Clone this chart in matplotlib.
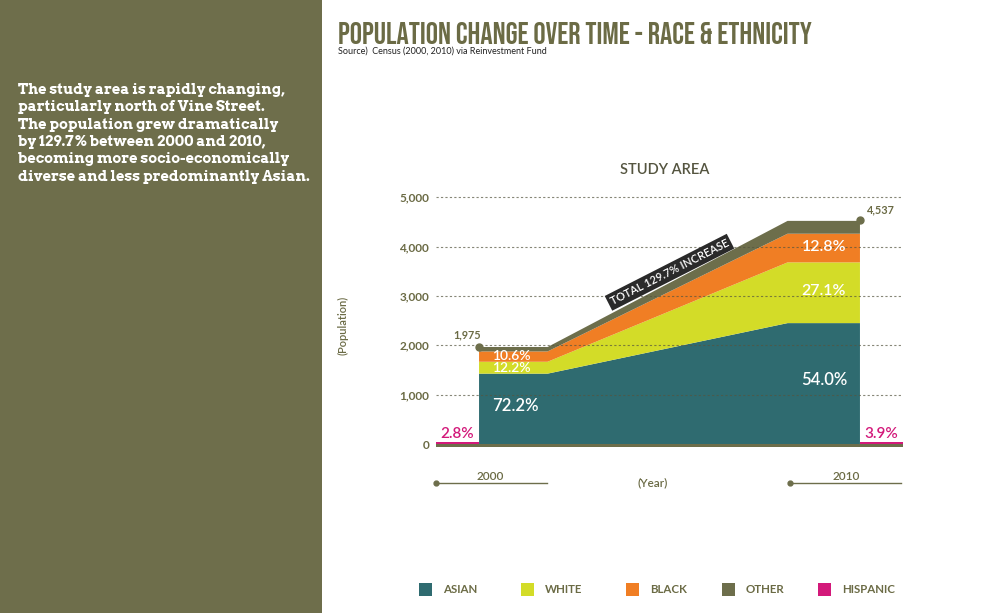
import matplotlib
matplotlib.use("Agg")
import matplotlib.pyplot as plt
from matplotlib.patches import Rectangle

# данные (чтение с картинки)
years = [2000, 2010]
asian = [1426, 2450]
white = [241, 1230]
black = [209, 581]
other = [90, 260]
totals = [1975, 4537]
pct_asian = ["72.2%", "54.0%"]
pct_white = ["12.2%", "27.1%"]
pct_black = ["10.6%", "12.8%"]
pct_hispanic = ["2.8%", "3.9%"]
yticks = [0, 1000, 2000, 3000, 4000, 5000]
ytick_labels = ["0", "1,000", "2,000", "3,000", "4,000", "5,000"]

# цвета
c_asian = "#2f6b70"
c_white = "#d3dc28"
c_black = "#f07e24"
c_other = "#6d6e4b"
c_hisp = "#d3197a"
olive = "#6b6b45"
panel = "#6e6e4b"

font = ["Lato", "DejaVu Sans"]

fig = plt.figure(figsize=(10.04, 6.13), dpi=100)
fig.patch.set_facecolor("white")

# левая панель
fig.patches.append(Rectangle((0, 0), 322 / 1004, 1, transform=fig.transFigure,
                             facecolor=panel, edgecolor="none", zorder=0))
panel_text = ("The study area is rapidly changing,\n"
              "particularly north of Vine Street.\n"
              "The population grew dramatically\n"
              "by 129.7% between 2000 and 2010,\n"
              "becoming more socio-economically\n"
              "diverse and less predominantly Asian.")
fig.text(18 / 1004, 1 - 83 / 613, panel_text, color="white", fontsize=10.5,
         family=["Arvo", "DejaVu Serif"], weight="bold", va="top", ha="left",
         linespacing=1.3)

# заголовок
fig.text(338 / 1004, 1 - 44 / 613, "POPULATION CHANGE OVER TIME - RACE & ETHNICITY",
         color=olive, fontsize=22,
         family=["Bebas Neue", "DejaVu Sans"], ha="left", va="baseline")
fig.text(338 / 1004, 1 - 54 / 613, "Source)  Census (2000, 2010) via Reinvestment Fund",
         color="#222222", fontsize=6.5, family=font, ha="left", va="baseline")
fig.text(665 / 1004, 1 - 170 / 613, "STUDY AREA", color="#555540", fontsize=10.5,
         family=font, weight="semibold", ha="center", va="center")
fig.text(343 / 1004, 1 - 325 / 613, "(Population)", color=olive, fontsize=8,
         family=font, weight="semibold", rotation=90, ha="center", va="center")

# оси
x0, x1 = 1998.87, 2011.13
ax = fig.add_axes([436 / 1004, (613 - 447) / 613, 467 / 1004, (447 - 192.3) / 613])
ax.set_xlim(x0, x1)
ax.set_ylim(-60, 5100)
for s in ax.spines.values():
    s.set_visible(False)
ax.set_xticks([])
ax.set_yticks(yticks)
ax.set_yticklabels(ytick_labels, color=olive, fontsize=8.5, family=font, weight="bold")
ax.tick_params(axis="y", length=0, pad=5)
ax.set_facecolor("none")

# форма: плоско у 2000, подъём, плоско у 2010
xs = [years[0], 2001.8, 2008.1, years[1]]
def shape(v):
    return [v[0], v[0], v[1], v[1]]

ax.stackplot(xs, shape(asian), shape(white), shape(black), shape(other),
             colors=[c_asian, c_white, c_black, c_other], linewidth=0, zorder=2)

for yv in yticks[1:]:
    ax.plot([x0, x1], [yv, yv], color="#55553f", lw=0.8, ls=(0, (2, 2)),
            alpha=0.7, zorder=3)

# базовая полоса и испанцы
ax.bar([x0], [-60], width=x1 - x0, align="edge", color=c_other, zorder=2)
ax.bar([x0, years[1]], [40, 40], width=[years[0] - x0, x1 - years[1]],
       align="edge", color=c_hisp, zorder=3)

# подписи процентов
ax.text(2000.35, 300 + asian[0] / 3, pct_asian[0], color="white", fontsize=12,
        family=font, weight="semibold", ha="left", va="center", zorder=4)
ax.text(2000.35, asian[0] + white[0] / 2, pct_white[0], color="white", fontsize=10,
        family=font, weight="semibold", ha="left", va="center", zorder=4)
ax.text(2000.35, asian[0] + white[0] + black[0] / 2 + 10, pct_black[0], color="white",
        fontsize=10, family=font, weight="semibold", ha="left", va="center", zorder=4)
ax.text(2009.05, 1300, pct_asian[1], color="white", fontsize=12,
        family=font, weight="semibold", ha="center", va="center", zorder=4)
ax.text(2009.05, asian[1] + white[1] / 2 + 40, pct_white[1], color="white", fontsize=11.5,
        family=font, weight="semibold", ha="center", va="center", zorder=4)
ax.text(2009.05, asian[1] + white[1] + black[1] / 2 + 20, pct_black[1], color="white",
        fontsize=11.5, family=font, weight="semibold", ha="center", va="center", zorder=4)
ax.text((x0 + years[0]) / 2, 60, pct_hispanic[0], color=c_hisp, fontsize=11,
        family=font, weight="semibold", ha="center", va="bottom", zorder=4)
ax.text((x1 + years[1]) / 2, 60, pct_hispanic[1], color=c_hisp, fontsize=11,
        family=font, weight="semibold", ha="center", va="bottom", zorder=4)

# итоговые значения
ax.plot(years, totals, "o", color=c_other, ms=5, zorder=5, clip_on=False)
ax.text(years[0] - 0.3, totals[0] + 130, "1,975", color=olive, fontsize=7.8,
        family=font, weight="bold", ha="center", va="bottom")
ax.text(years[1] + 0.55, totals[1] + 90, "4,537", color=olive, fontsize=7.8,
        family=font, weight="bold", ha="center", va="bottom")

# надпись роста
ax.text(2005.0, 3480, "TOTAL 129.7% INCREASE", color="white", fontsize=8,
        family=font, weight="semibold", rotation=27, rotation_mode="anchor",
        ha="center", va="center", zorder=6,
        bbox=dict(boxstyle="square,pad=0.25", facecolor="#2a2a2a", edgecolor="none"))

# ось годов
ly = -790
ax.plot([x0, 2001.78], [ly, ly], color=c_other, lw=1, clip_on=False)
ax.plot([x0], [ly], "o", color=c_other, ms=3.5, clip_on=False)
ax.plot([2008.17, x1 - 0.05], [ly, ly], color=c_other, lw=1, clip_on=False)
ax.plot([2008.17], [ly], "o", color=c_other, ms=3.5, clip_on=False)
ax.text(2000.3, ly + 20, "2000", color=olive, fontsize=8.5, family=font,
        weight="semibold", ha="center", va="bottom")
ax.text(2009.65, ly + 20, "2010", color=olive, fontsize=8.5, family=font,
        weight="semibold", ha="center", va="bottom")
ax.text(2004.55, ly + 10, "(Year)", color=olive, fontsize=8.5, family=font,
        weight="semibold", ha="center", va="center")

# легенда
legend_names = ["ASIAN", "WHITE", "BLACK", "OTHER", "HISPANIC"]
legend_colors = [c_asian, c_white, c_black, c_other, c_hisp]
legend_x = [419, 521, 626, 722, 818]
for name, col, lx in zip(legend_names, legend_colors, legend_x):
    fig.patches.append(Rectangle((lx / 1004, 1 - 596 / 613), 13 / 1004, 13 / 613,
                                 transform=fig.transFigure, facecolor=col,
                                 edgecolor="none"))
    fig.text((lx + 24) / 1004, 1 - 589.5 / 613, name, color=olive, fontsize=8.3,
             family=font, weight="bold", ha="left", va="center")

fig.savefig("out.png", dpi=100)
